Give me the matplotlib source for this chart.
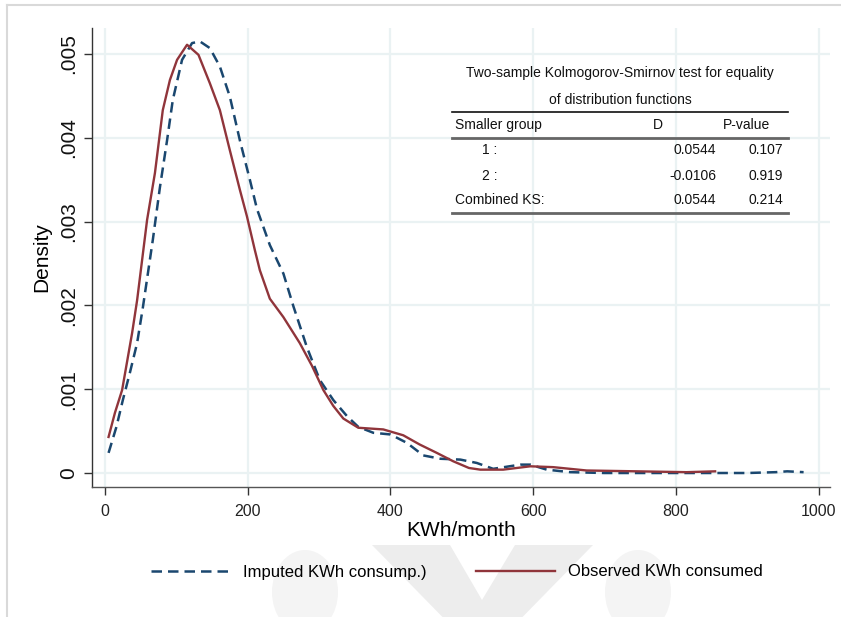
import matplotlib
matplotlib.use("Agg")
import matplotlib.pyplot as plt
from matplotlib.lines import Line2D
from matplotlib.patches import Polygon, Ellipse

plt.rcParams['font.family'] = ['Liberation Sans', 'DejaVu Sans']

# ---------------- data ----------------
obs_x = [5, 14, 24, 38, 45, 59, 70, 81, 91, 101, 115, 131, 147, 161, 175, 189, 199,
         210, 217, 231, 250, 273, 290, 306, 320, 334, 355, 390, 418, 441, 465, 488,
         510, 526, 558, 596, 628, 675, 746, 815, 855]
obs_y = [0.00043, 0.00072, 0.00099, 0.00167, 0.00206, 0.00302, 0.00358, 0.00433,
         0.00469, 0.00493, 0.00511, 0.00499, 0.00465, 0.00433, 0.00385, 0.00338,
         0.00306, 0.00266, 0.00242, 0.00208, 0.00186, 0.00155, 0.00128, 0.00099,
         0.00080, 0.00065, 0.00054, 0.00052, 0.00045, 0.00034, 0.00024, 0.00014,
         0.00006, 0.00004, 0.00004, 0.00008, 0.00007, 0.00003, 0.00002, 0.00001,
         0.00002]

imp_x = [5, 16, 25, 35, 45, 53, 67, 77, 87, 95, 108, 122, 133, 147, 161, 175, 189,
         203, 213, 231, 250, 264, 283, 301, 320, 339, 355, 376, 400, 423, 446, 470,
         498, 521, 544, 582, 596, 619, 652, 700, 800, 900, 940, 956, 979]
imp_y = [0.00024, 0.00055, 0.00087, 0.00120, 0.00155, 0.00197, 0.00278, 0.00341,
         0.00397, 0.00445, 0.00493, 0.00513, 0.00515, 0.00507, 0.00485, 0.00449,
         0.00397, 0.00350, 0.00315, 0.00272, 0.00238, 0.00199, 0.00150, 0.00111,
         0.00087, 0.00068, 0.00055, 0.00048, 0.00046, 0.00036, 0.00021, 0.00017,
         0.00016, 0.00012, 0.00005, 0.00010, 0.00010, 0.00004, 0.00001, 0.0, 0.0,
         0.0, 0.00001, 0.00002, 0.00001]

x_ticks = [0, 200, 400, 600, 800, 1000]
y_ticks = [0, 0.001, 0.002, 0.003, 0.004, 0.005]
y_tick_labels = ["0", ".001", ".002", ".003", ".004", ".005"]

imp_label = "Imputed KWh consump.)"
obs_label = "Observed KWh consumed"

table_title = ["Two-sample Kolmogorov-Smirnov test for equality", "of distribution functions"]
table_header = ["Smaller group", "D", "P-value"]
table_rows = ["1 :", "2 :", "Combined KS:"]
table_D = ["0.0544", "-0.0106", "0.0544"]
table_P = ["0.107", "0.919", "0.214"]

# ---------------- figure ----------------
W, H = 841, 617
fig = plt.figure(figsize=(W / 100, H / 100), dpi=100)
fig.patch.set_facecolor('white')

def fx(px):
    return px / W

def fy(py):
    return 1 - py / H

# faint watermark
wm = '#ededed'
fig.patches.append(Polygon([(fx(372), fy(545)), (fx(450), fy(545)), (fx(482), fy(600)),
                            (fx(515), fy(545)), (fx(593), fy(545)), (fx(500), fy(640)),
                            (fx(465), fy(640))], closed=True, transform=fig.transFigure,
                           facecolor=wm, edgecolor='none', zorder=0))
for cx in (305, 638):
    fig.patches.append(Ellipse((fx(cx), fy(592)), 66 / W, 84 / H, transform=fig.transFigure,
                               facecolor='#f4f4f4', edgecolor='none', zorder=0))

# border lines
fig.add_artist(Line2D([fx(7), fx(841)], [fy(5), fy(5)], color='#d9d9d9', lw=1.5))
fig.add_artist(Line2D([fx(7), fx(7)], [fy(5), fy(617)], color='#d9d9d9', lw=1.5))

ax = fig.add_axes([fx(92), fy(487), (830 - 92) / W, (487 - 28) / H])
ax.set_facecolor('none')

blue = '#1a476f'
red = '#90353b'

ax.plot(imp_x, imp_y, color=blue, lw=1.8, linestyle=(0, (4.2, 2.4)), label=imp_label, zorder=3)
ax.plot(obs_x, obs_y, color=red, lw=1.7, label=obs_label, zorder=4)

ax.set_xlim(-18.2, 1016)
ax.set_ylim(-0.000167, 0.00531)
ax.set_xticks(x_ticks)
ax.set_xticklabels([str(v) for v in x_ticks], fontsize=11.5, color='#222222')
ax.set_yticks(y_ticks)
ax.set_yticklabels(y_tick_labels, fontsize=15, rotation=90, va='center', color='#111111')

ax.grid(True, color='#eaf2f3', lw=1.6, zorder=0)
ax.set_axisbelow(True)
for s in ('top', 'right'):
    ax.spines[s].set_visible(False)
ax.spines['left'].set_color('#333333')
ax.spines['bottom'].set_color('#555555')
ax.spines['left'].set_linewidth(1.0)
ax.spines['bottom'].set_linewidth(1.0)
ax.tick_params(axis='both', direction='out', length=6, width=1.0, colors='#333333')
ax.tick_params(axis='x', pad=6, labelcolor='#222222')
ax.tick_params(axis='y', pad=4, labelcolor='#111111')

ax.set_xlabel("KWh/month", fontsize=15, labelpad=2)
ax.set_ylabel("Density", fontsize=15, labelpad=6)

# legend
fig.legend(loc='center', bbox_to_anchor=(fx(457), fy(572)), ncol=2, frameon=False,
           fontsize=12, handlelength=4.7, handletextpad=0.8, columnspacing=3.0)

# KS table
tfs = 10
fig.text(fx(620), fy(73), table_title[0], ha='center', va='center', fontsize=tfs, color='#111111')
fig.text(fx(620), fy(100), table_title[1], ha='center', va='center', fontsize=tfs, color='#111111')
fig.add_artist(Line2D([fx(452), fx(788)], [fy(112), fy(112)], color='#111111', lw=1.2))
fig.text(fx(455), fy(125), table_header[0], ha='left', va='center', fontsize=tfs, color='#111111')
fig.text(fx(658), fy(125), table_header[1], ha='center', va='center', fontsize=tfs, color='#111111')
fig.text(fx(746), fy(125), table_header[2], ha='center', va='center', fontsize=tfs, color='#111111')
fig.add_artist(Line2D([fx(452), fx(788)], [fy(138), fy(138)], color='#666666', lw=2))
row_y = [150, 176, 200]
for i, ry in enumerate(row_y):
    lx = 482 if i < 2 else 455
    fig.text(fx(lx), fy(ry), table_rows[i], ha='left', va='center', fontsize=tfs, color='#111111')
    fig.text(fx(716), fy(ry), table_D[i], ha='right', va='center', fontsize=tfs, color='#111111')
    fig.text(fx(783), fy(ry), table_P[i], ha='right', va='center', fontsize=tfs, color='#111111')
fig.add_artist(Line2D([fx(452), fx(788)], [fy(213), fy(213)], color='#666666', lw=2))

fig.savefig("out.png", dpi=100)
